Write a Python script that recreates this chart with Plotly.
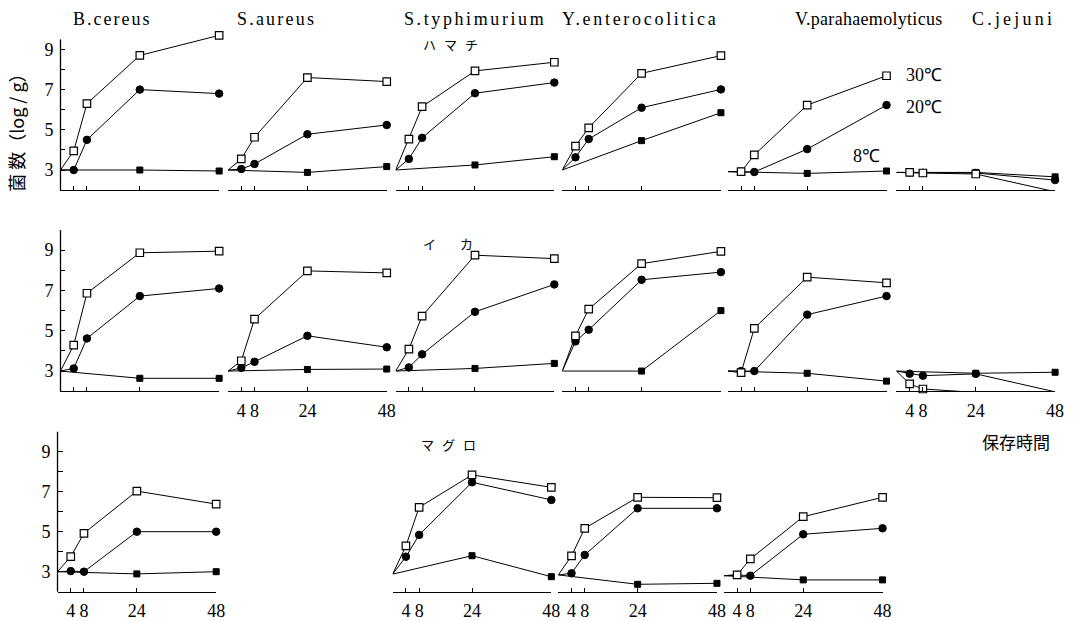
import plotly.graph_objects as go

# ---------------- data ----------------
times_warm = [0, 4, 8, 24, 48]   # 30℃ and 20℃ sampling times (h)
times_cold = [0, 24, 48]         # 8℃ sampling times (h)
species = ["B.cereus", "S.aureus", "S.typhimurium", "Y.enterocolitica",
           "V.parahaemolyticus", "C.jejuni"]
fish = ["ハマチ", "イカ", "マグロ"]
temp_labels = ["30℃", "20℃", "8℃"]
x_tick_vals = [4, 8, 24, 48]
x_tick_text = ["4", "8", "24", "48"]
y_tick_vals = [3, 5, 7, 9]
y_tick_text = ["3", "5", "7", "9"]

# ハマチ (yellowtail), log cfu/g, order = species
hamachi_30 = [[3.0, 3.95, 6.3, 8.7, 9.7], [3.0, 3.55, 4.63, 7.6, 7.4],
              [3.0, 4.54, 6.15, 7.93, 8.36], [3.0, 4.19, 5.1, 7.81, 8.69],
              [2.92, 2.92, 3.75, 6.23, 7.69], [2.88, 2.88, 2.85, 2.8, 1.92]]
hamachi_20 = [[3.0, 3.0, 4.5, 7.0, 6.8], [3.0, 3.05, 3.3, 4.78, 5.24],
              [3.0, 3.55, 4.6, 6.82, 7.35], [3.0, 3.63, 4.54, 6.1, 7.01],
              [2.92, 2.92, 2.9, 4.04, 6.23], [2.88, 2.88, 2.86, 2.85, 2.5]]
hamachi_8 = [[3.0, 3.0, 2.95], [3.0, 2.88, 3.17], [3.0, 3.25, 3.66],
             [3.0, 4.46, 5.85], [2.92, 2.83, 2.95], [2.88, 2.88, 2.66]]

# イカ (squid)
ika_30 = [[3.0, 4.29, 6.86, 8.87, 8.95], [3.0, 3.51, 5.58, 7.97, 7.87],
          [3.0, 4.09, 5.73, 8.75, 8.58], [3.0, 4.75, 6.07, 8.33, 8.94],
          [3.0, 2.92, 5.12, 7.66, 7.38], [3.0, 2.36, 2.11, 1.94, 1.94]]
ika_20 = [[3.0, 3.13, 4.62, 6.72, 7.1], [3.0, 3.16, 3.46, 4.75, 4.18],
          [3.0, 3.18, 3.83, 5.94, 7.3], [3.0, 4.47, 5.05, 7.53, 7.91],
          [3.0, 3.0, 3.0, 5.8, 6.72], [3.0, 2.87, 2.77, 2.86, 1.97]]
ika_8 = [[3.0, 2.64, 2.64], [3.0, 3.08, 3.1], [3.0, 3.13, 3.38],
         [3.0, 3.0, 6.0], [3.0, 2.89, 2.5], [3.0, 2.89, 2.94]]

# マグロ (tuna); None = not tested
maguro_30 = [[3.0, 3.75, 4.92, 7.03, 6.38], None,
             [2.88, 4.29, 6.22, 7.84, 7.22], [2.84, 3.79, 5.17, 6.72, 6.7],
             [2.8, 2.84, 3.64, 5.75, 6.72], None]
maguro_20 = [[3.0, 3.03, 3.0, 5.0, 5.0], None,
             [2.88, 3.75, 4.84, 7.47, 6.59], [2.84, 2.92, 3.84, 6.17, 6.17],
             [2.8, 2.84, 2.8, 4.87, 5.17], None]
maguro_8 = [[3.0, 2.89, 3.0], None, [2.88, 3.8, 2.75],
            [2.84, 2.37, 2.42], [2.8, 2.59, 2.59], None]

rows_30 = [hamachi_30, ika_30, maguro_30]
rows_20 = [hamachi_20, ika_20, maguro_20]
rows_8 = [hamachi_8, ika_8, maguro_8]

# ---------------- layout geometry (pixels) ----------------
W, H = 1077, 621
col_x0 = [[61, 230, 399, 567, 734, 904],
          [61, 230, 399, 567, 734, 904],
          [58, 227, 396, 563, 730, 900]]
panel_w = 160
row_bottom = [190.1, 391.2, 591.7]
row_unit = [20.1, 20.15, 20.0]
row_axis_top = [9.5, 10, 10]
label_panels = {(1, 1), (1, 5), (2, 0), (2, 2), (2, 3), (2, 4)}

serif = "Liberation Serif, Times New Roman, serif"
cjk = "Noto Sans CJK JP, sans-serif"

fig = go.Figure()
layout = dict(width=W, height=H, paper_bgcolor="white", plot_bgcolor="white",
              margin=dict(l=0, r=0, t=0, b=0, pad=0), showlegend=False)
shapes = []

k = 0
for r in range(3):
    for c in range(6):
        if rows_30[r][c] is None:
            continue
        k += 1
        sfx = "" if k == 1 else str(k)
        x0 = col_x0[r][c]
        bot = row_bottom[r]
        top = bot - 8 * row_unit[r]
        xd = [x0 / W, (x0 + panel_w) / W]
        yd = [1 - bot / H, 1 - top / H]
        show_lbl = (r, c) in label_panels
        layout["xaxis" + sfx] = dict(
            domain=xd, range=[0, 48], anchor="y" + sfx, showgrid=False, zeroline=False,
            showline=True, linecolor="black", linewidth=1.3,
            ticks="inside", ticklen=4, tickwidth=1, tickcolor="black",
            tickvals=x_tick_vals, ticktext=x_tick_text, showticklabels=show_lbl,
            tickfont=dict(family=serif, size=18, color="black"), ticklabelstandoff=3,
            fixedrange=True)
        ya = dict(domain=yd, range=[2, 10], anchor="x" + sfx, showgrid=False,
                  zeroline=False, showline=False, fixedrange=True)
        if c == 0:
            ya.update(ticks="inside", ticklen=5, tickwidth=1, tickcolor="black",
                      tickvals=y_tick_vals, ticktext=y_tick_text, showticklabels=True,
                      tickfont=dict(family=serif, size=18, color="black"),
                      ticklabelstandoff=6,
                      minor=dict(tickvals=[4, 6, 8], ticks="inside", ticklen=5,
                                 tickcolor="black", tickwidth=1))
            ay0 = 1 - bot / H
            ay1 = 1 - (bot - (row_axis_top[r] - 2) * row_unit[r]) / H
            shapes.append(dict(type="line", xref="paper", yref="paper",
                               x0=x0 / W, x1=x0 / W, y0=ay0, y1=ay1,
                               line=dict(color="black", width=1.3)))
        else:
            ya.update(ticks="", showticklabels=False)
        layout["yaxis" + sfx] = ya

        series = [
            (times_cold, rows_8[r][c], dict(symbol="square", size=6, color="black",
                                             line=dict(color="black", width=1))),
            (times_warm, rows_20[r][c], dict(symbol="circle", size=7.5, color="black",
                                              line=dict(color="black", width=1))),
            (times_warm, rows_30[r][c], dict(symbol="square", size=7.5, color="white",
                                              line=dict(color="black", width=1.2))),
        ]
        for tx, vals, mk in series:
            mk = dict(mk)
            mk["opacity"] = [0] + [1] * (len(vals) - 1)
            fig.add_trace(go.Scatter(
                x=tx, y=vals, mode="lines+markers", xaxis="x" + sfx, yaxis="y" + sfx,
                line=dict(color="black", width=1), marker=mk, cliponaxis=False,
                hoverinfo="skip"))

# ---------------- text ----------------
ann = []
title_x = [72, 237, 405, 565, 800, 978]
title_spacing = [2.0, 2.2, 2.6, 2.7, 0.3, 3.2]
for name, tx, sp in zip(species, title_x, title_spacing):
    ann.append(dict(text='<span style="letter-spacing:%.1fpx">%s</span>' % (sp, name),
                    x=tx / W, y=1 - 19 / H, xref="paper", yref="paper",
                    xanchor="left", yanchor="middle", showarrow=False,
                    font=dict(family=serif, size=18, color="black")))
fish_pos = [(425, 45, 8), (425, 244, 24), (423, 444, 8)]
for f, (fx, fy, sp) in zip(fish, fish_pos):
    ann.append(dict(text='<span style="letter-spacing:%dpx">%s</span>' % (sp, f),
                    x=fx / W, y=1 - fy / H, xref="paper", yref="paper",
                    xanchor="left", yanchor="middle", showarrow=False,
                    font=dict(family=cjk, size=13, color="black")))
temp_pos = [(912, 75), (912, 107), (858, 156)]
for t, (tx, ty) in zip(temp_labels, temp_pos):
    ann.append(dict(text=t, x=tx / W, y=1 - ty / H, xref="paper", yref="paper",
                    xanchor="left", yanchor="middle", showarrow=False,
                    font=dict(family=serif, size=18, color="black")))
ann.append(dict(text="保存時間", x=988 / W, y=1 - 441 / H, xref="paper", yref="paper",
                xanchor="left", yanchor="middle", showarrow=False,
                font=dict(family=cjk, size=17, color="black")))
ann.append(dict(text="菌 数（log / g）", x=16 / W, y=1 - 128 / H, xref="paper",
                yref="paper", xanchor="center", yanchor="middle", showarrow=False,
                textangle=-90, font=dict(family=cjk, size=18, color="black")))

layout["annotations"] = ann
layout["shapes"] = shapes
fig.update_layout(**layout)
fig.write_html("out.html", config={"displayModeBar": False},
               post_script="document.body.style.margin='0';"
                           "document.body.style.overflow='hidden';")
